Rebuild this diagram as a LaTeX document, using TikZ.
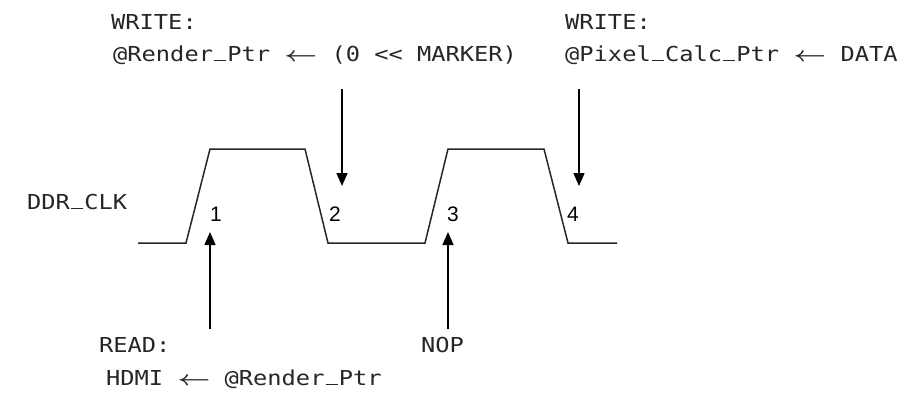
\documentclass[tikz,border=0pt]{standalone}
\usepackage{fontspec}
\usepackage{graphicx}
\usetikzlibrary{arrows.meta}
\newfontfamily\lblfont{DejaVu Sans Mono}
\newfontfamily\numfont{Liberation Sans}
\newcommand{\wtxt}[1]{\scalebox{1.15}[1]{#1}}
\newcommand{\larr}{\scalebox{1.2}[1]{\boldmath$\leftarrow$}}
\newcommand{\us}{\makebox[0.602em]{\rule{0.5em}{0.07em}}}
\begin{document}
\begin{tikzpicture}[x=1pt,y=-1pt,
  lbl/.style={inner sep=0pt,anchor=base west,font=\lblfont\fontsize{20.6}{24}\selectfont,text=black!85},
  num/.style={inner sep=0pt,anchor=base west,font=\numfont\fontsize{21}{24}\selectfont},
  wave/.style={line width=1.5pt,black!85},
  marker/.style={line width=1.5pt,-{Triangle[length=13pt,width=11pt]}}]
\useasboundingbox (0,0) rectangle (902,400);
% waveform
\draw[wave] (138,243) -- (186,243) -- (210,149) -- (305,149) -- (328,243) -- (425,243) -- (448,149) -- (544,149) -- (568,243) -- (617,243);
% labels
\node[lbl] (clk) at (27,209) {\wtxt{DDR\us CLK}};
\node[num] (n1) at (210,221) {1};
\node[num] (n2) at (329,221) {2};
\node[num] (n3) at (447,221) {3};
\node[num] (n4) at (567,221) {4};
\node[lbl] (w1) at (111,29) {\wtxt{WRITE:}};
\node[lbl] (w1b) at (113,61) {\wtxt{@Render\us Ptr \larr{} (0 << MARKER)}};
\node[lbl] (w2) at (565,29) {\wtxt{WRITE:}};
\node[lbl] (w2b) at (565,61) {\wtxt{@Pixel\us Calc\us Ptr \larr{} DATA}};
\node[lbl] (rd) at (99,352) {\wtxt{READ:}};
\node[lbl] (rdb) at (106,385) {\wtxt{HDMI \larr{} @Render\us Ptr}};
\node[lbl] (nop) at (421,352) {\wtxt{NOP}};
% arrow ends
\coordinate (a2s) at (342,89);  \coordinate (a2e) at (342,186);
\coordinate (a4s) at (579,89);  \coordinate (a4e) at (579,186);
\coordinate (a1s) at (210,329); \coordinate (a1e) at (210,232);
\coordinate (a3s) at (448,329); \coordinate (a3e) at (448,232);
\draw[marker] (a2s) -- (a2e);
\draw[marker] (a4s) -- (a4e);
\draw[marker] (a1s) -- (a1e);
\draw[marker] (a3s) -- (a3e);
\end{tikzpicture}
\end{document}
